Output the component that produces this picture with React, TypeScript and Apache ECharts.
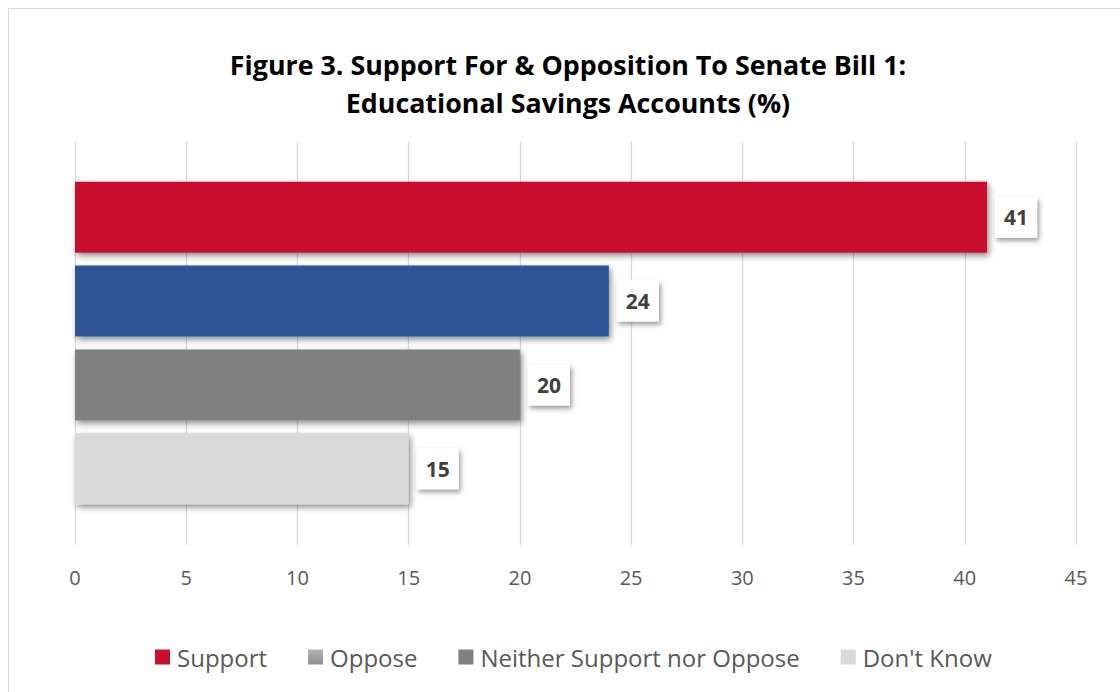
import React, { useEffect, useRef } from "react";
import * as echarts from "echarts";

const categories = ["Senate Bill 1"];
const seriesNames = ["Support", "Oppose", "Neither Support nor Oppose", "Don't Know"];
const seriesValues = [41, 24, 20, 15];
const seriesColors = ["#C8102E", "#2F5597", "#808080", "#D9D9D9"];
const xTicks = { min: 0, max: 45, interval: 5 };

const FONT = "'Open Sans', 'Noto Sans', sans-serif";

export default function App() {
  const ref = useRef<HTMLDivElement>(null);
  useEffect(() => {
    if (!ref.current) return;
    const chart = echarts.init(ref.current, undefined, { renderer: "svg" });
    const series = seriesNames.map((name, i) => ({
      name,
      type: "bar",
      data: [seriesValues[i]],
      barWidth: 71,
      barGap: "18%",
      itemStyle: {
        color: seriesColors[i],
        shadowColor: "rgba(0,0,0,0.45)",
        shadowBlur: 6,
        shadowOffsetX: 2,
        shadowOffsetY: 3,
      },
      label: {
        show: true,
        position: "right",
        distance: 8,
        fontFamily: FONT,
        fontWeight: "bold",
        fontSize: 21,
        lineHeight: 22,
        color: "#404040",
        backgroundColor: "#ffffff",
        padding: [9.5, 9, 9.5, 9],
        shadowColor: "rgba(0,0,0,0.4)",
        shadowBlur: 5,
        shadowOffsetX: 2,
        shadowOffsetY: 3,
      },
    }));
    chart.setOption({
      animation: false,
      textStyle: { fontFamily: FONT },
      title: {
        text: "Figure 3. Support For & Opposition To Senate Bill 1:\nEducational Savings Accounts (%)",
        left: 554,
        top: 31,
        textAlign: "center",
        textStyle: {
          fontFamily: FONT,
          fontWeight: "bold",
          fontSize: 26.8,
          lineHeight: 38,
          color: "#000000",
        },
      },
      legend: {
        left: 141,
        top: 631,
        itemWidth: 15,
        itemHeight: 15,
        itemGap: 41,
        icon: "rect",
        textStyle: { fontFamily: FONT, fontSize: 24, color: "#595959", padding: [0, 0, 0, 2] },
        data: [
          { name: "Support" },
          {
            name: "Oppose",
            itemStyle: {
              color: new echarts.graphic.LinearGradient(0, 0, 0, 1, [
                { offset: 0, color: "#b4b4b4" },
                { offset: 1, color: "#8c8c8c" },
              ]),
            },
          },
          { name: "Neither Support nor Oppose" },
          { name: "Don't Know" },
        ],
      },
      grid: { left: 66, right: 44, top: 132, bottom: 147, containLabel: false },
      xAxis: {
        type: "value",
        min: xTicks.min,
        max: xTicks.max,
        interval: xTicks.interval,
        axisLine: { show: false },
        axisTick: { show: false },
        axisLabel: { color: "#595959", fontSize: 20, margin: 22, fontFamily: FONT },
        splitLine: { show: true, lineStyle: { color: "#d9d9d9", width: 1.3 } },
      },
      yAxis: {
        type: "category",
        data: categories,
        inverse: true,
        axisLine: { show: false },
        axisTick: { show: false },
        axisLabel: { show: false },
        splitLine: { show: false },
      },
      series,
    });
    return () => chart.dispose();
  }, []);
  return (
    <div
      style={{
        position: "absolute",
        left: 8,
        top: 8,
        width: 1112,
        height: 684,
        borderLeft: "1px solid #d9d9d9",
        borderTop: "1px solid #d9d9d9",
        background: "#fff",
        boxSizing: "border-box",
      }}
    >
      <div ref={ref} style={{ width: 1111, height: 683 }} />
    </div>
  );
}
